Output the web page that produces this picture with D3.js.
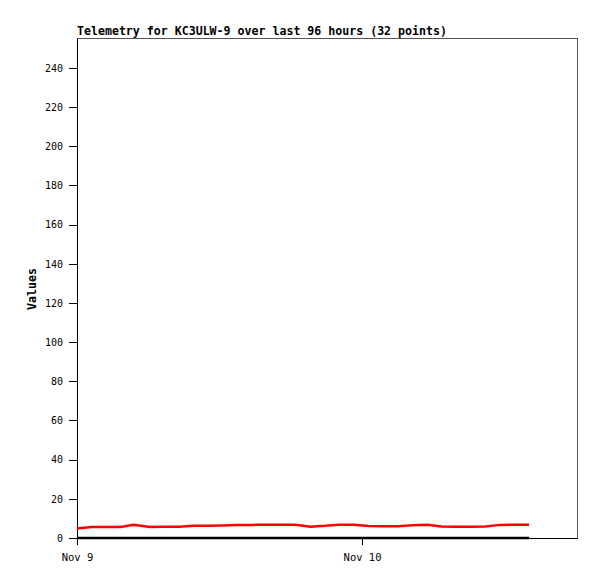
<!DOCTYPE html>
<html><head><meta charset="utf-8">
<script src="https://cdn.jsdelivr.net/npm/d3@7"></script>
<style>body{margin:0;background:#fff}svg{display:block}</style>
</head><body>
<svg id="c" width="597" height="579"></svg>
<script>
const title = "Telemetry for KC3ULW-9 over last 96 hours (32 points)";
const yLabel = "Values";
// hours since Nov 9 00:00
const hours = [0,1.23,2.46,3.68,4.75,6.14,7.37,8.6,9.82,11.05,12.28,13.51,14.74,15.96,17.19,18.42,19.65,20.88,22.1,23.33,24.56,25.79,27.02,28.25,29.47,30.7,31.93,33.16,34.39,35.61,36.84,38.07];
const seriesRed = [4.8,5.6,5.6,5.6,6.8,5.6,5.7,5.8,6.2,6.3,6.4,6.6,6.7,6.8,6.8,6.8,5.8,6.2,6.8,6.8,6.1,6.0,6.0,6.5,6.8,5.9,5.8,5.8,5.9,6.7,6.8,6.8];
const seriesBlack = [0,0,0,0,0,0,0,0,0,0,0,0,0,0,0,0,0,0,0,0,0,0,0,0,0,0,0,0,0,0,0,0];
const yTicks = [0,20,40,60,80,100,120,140,160,180,200,220,240];
const xTickHours = [0,24];
const xTickLabels = ["Nov 9","Nov 10"];
const xMaxHours = 42.1;
const yMax = 255.3;

const L=77,R=577,T=38,B=538;
const svg = d3.select("#c");
const x = d3.scaleLinear().domain([0,xMaxHours]).range([L,R]);
const y = d3.scaleLinear().domain([0,yMax]).range([B,T]);

svg.append("text").attr("x",L).attr("y",35)
  .attr("font-family","DejaVu Sans Mono").attr("font-weight","bold").attr("font-size","11.6px")
  .text(title);

svg.append("rect").attr("x",L).attr("y",T).attr("width",R-L).attr("height",B-T)
  .attr("fill","none").attr("stroke","#555").attr("shape-rendering","crispEdges");

const yAxis = d3.axisLeft(y).tickValues(yTicks).tickSize(8).tickSizeOuter(0).tickPadding(6);
const gy = svg.append("g").attr("transform",`translate(${L},0)`).call(yAxis);
gy.select(".domain").attr("stroke","#000").attr("shape-rendering","crispEdges");
gy.selectAll("line").attr("stroke","#000").attr("shape-rendering","crispEdges");
gy.selectAll("text").attr("font-family","DejaVu Sans Mono").attr("font-size","10px").attr("fill","#000");

const xAxis = d3.axisBottom(x).tickValues(xTickHours).tickFormat((d,i)=>xTickLabels[i]).tickSize(7).tickSizeOuter(0).tickPadding(9);
const gx = svg.append("g").attr("transform",`translate(0,${B})`).call(xAxis);
gx.select(".domain").attr("stroke","#000").attr("shape-rendering","crispEdges");
gx.selectAll("line").attr("stroke","#000").attr("shape-rendering","crispEdges");
gx.selectAll("text").attr("font-family","DejaVu Sans Mono").attr("font-size","10.5px").attr("fill","#000");

svg.append("text").attr("transform",`translate(36,289) rotate(-90)`).attr("text-anchor","middle")
  .attr("font-family","DejaVu Sans Mono").attr("font-weight","bold").attr("font-size","11.6px")
  .text(yLabel);

const line = d3.line().x((d,i)=>x(hours[i])).y(d=>y(d));
svg.append("path").datum(seriesBlack).attr("d",line).attr("fill","none").attr("stroke","#000").attr("stroke-width",2.5);
svg.append("path").datum(seriesRed).attr("d",line).attr("fill","none").attr("stroke","#ff0000").attr("stroke-width",2.5);
</script>
</body></html>
